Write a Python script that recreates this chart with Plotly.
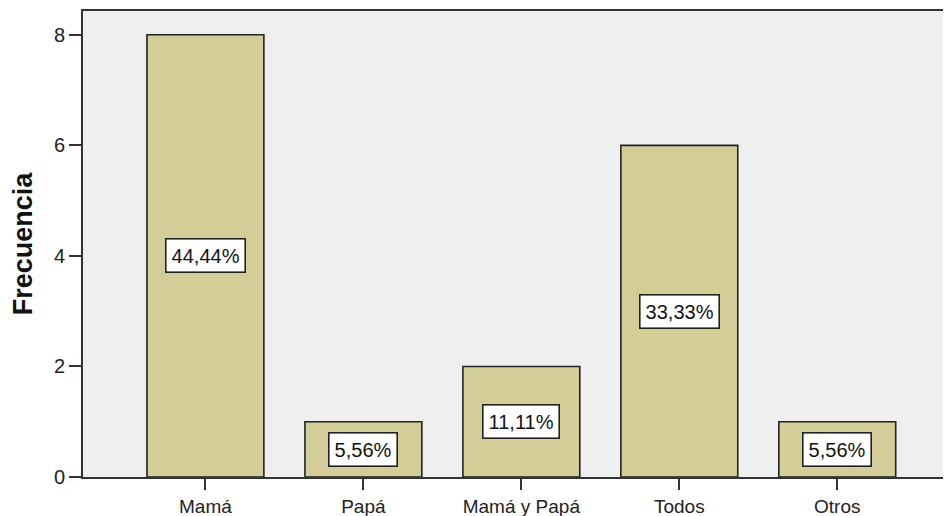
import plotly.graph_objects as go

categories = ["Mamá", "Papá", "Mamá y Papá", "Todos", "Otros"]
frecuencia = [8, 1, 2, 6, 1]
porcentajes = ["44,44%", "5,56%", "11,11%", "33,33%", "5,56%"]

fig = go.Figure()
fig.add_trace(go.Bar(
    x=categories, y=frecuencia, width=0.74,
    marker=dict(color="#D3CE97", line=dict(color="#222222", width=1.6)),
    hoverinfo="skip",
))

for c, v, p in zip(categories, frecuencia, porcentajes):
    fig.add_annotation(
        x=c, y=v / 2, text=p, showarrow=False,
        font=dict(family="Liberation Sans, Arial", size=20, color="#111111"),
        bgcolor="white", bordercolor="#222222", borderwidth=1.6, borderpad=5,
    )

fig.update_layout(
    width=943, height=508,
    margin=dict(l=75, r=0, t=3, b=39),
    paper_bgcolor="white", plot_bgcolor="#EFEFEF",
    showlegend=False,
    font=dict(family="Liberation Sans, Arial", size=20, color="#222222"),
)
fig.update_xaxes(
    range=[-0.775, 4.72], showgrid=False, zeroline=False,
    showline=True, linecolor="#333333", linewidth=2, mirror=True,
    ticks="outside", ticklen=11, tickcolor="#333333", tickwidth=2,
    tickfont=dict(size=19),
)
fig.update_yaxes(
    range=[0, 8.43], tickvals=[0, 2, 4, 6, 8], showgrid=False, zeroline=False,
    showline=True, linecolor="#333333", linewidth=2, mirror=False,
    ticks="outside", ticklen=12, tickcolor="#333333", tickwidth=2,
    tickfont=dict(size=20),
    title=dict(text="<b>Frecuencia</b>", font=dict(size=27, color="#111111"), standoff=20),
)

fig.write_html("out.html")
